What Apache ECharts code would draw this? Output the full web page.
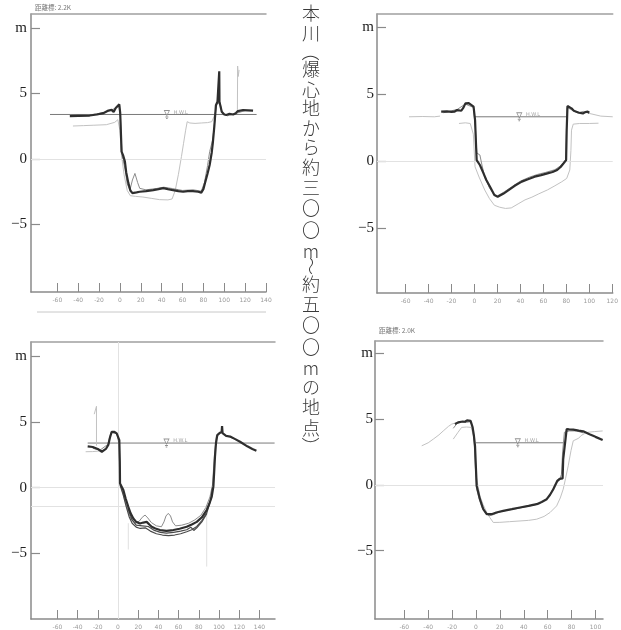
<!DOCTYPE html>
<html><head><meta charset="utf-8">
<script src="https://cdn.jsdelivr.net/npm/echarts@6/dist/echarts.min.js"></script>
<style>html,body{margin:0;padding:0;background:#fff}#c{width:621px;height:630px}</style>
</head><body><div id="c"></div>
<script>
// ---------------- DATA ----------------
const panelTitles = ['距離標: 2.2K', '', '', '距離標: 2.0K'];
const sideTitle = '本川（爆心地から約三〇〇m～約五〇〇mの地点）';
const yTickValues = [10, 5, 0, -5];
const xTicks1 = [-60, -40, -20, 0, 20, 40, 60, 80, 100, 120, 140];
const xTicks2 = [-60, -40, -20, 0, 20, 40, 60, 80, 100, 120];
const xTicks3 = [-60, -40, -20, 0, 20, 40, 60, 80, 100, 120, 140];
const xTicks4 = [-60, -40, -20, 0, 20, 40, 60, 80, 100];
const waterLevels = [3.4, 3.3, 3.4, 3.2];
const waterFrom = [-67, 0, -30, 0];
const waterTo = [131, 80, 155, 73];
const hwlX = [45, 39, 48, 35];

// Panel 1 (2.2K)
const p1Main = [[-48,3.28],[-40,3.3],[-29,3.32],[-22,3.4],[-16,3.5],[-11,3.7],[-8,3.75],[-6,3.6],[-4,3.9],[-0.6,4.17],[0.3,3.5],[1.6,0.56],[3,0.3],[4.8,-0.2],[6,-1],[8,-1.8],[10,-2.4],[12,-2.6],[16,-2.55],[19,-2.5],[25,-2.45],[32,-2.37],[37,-2.3],[41.5,-2.22],[46,-2.3],[51,-2.38],[56,-2.45],[60.6,-2.5],[65,-2.45],[70,-2.45],[75,-2.5],[78,-2.56],[80,-2.3],[81.3,-1.9],[84,-1.1],[86,-0.46],[88,0.5],[89,1.2],[90.5,2.5],[92,4.1],[93.5,4.37],[95,4.37],[95.2,6.7],[95.4,4.37],[97.3,4.37],[97.6,3.6],[100,3.4],[102,3.36],[105,3.45],[108.5,3.4],[111,3.5],[113,3.66],[118,3.74],[127.6,3.7]];
const p1Second = [[-45,3.25],[-30,3.35],[-15,3.55],[-5,3.85],[-1,4.1],[0.5,3.2],[2,0.3],[5,-0.8],[7,-1.9],[9.6,-2.37],[12,-1.6],[14.4,-1.1],[17,-1.8],[19,-2.24],[25,-2.35],[35,-2.25],[42,-2.15],[50,-2.25],[60,-2.4],[70,-2.35],[78,-2.45],[81,-1.8],[84,-0.5],[86,0.56],[87.5,0.7],[89,1.5],[91,3.0],[92.5,4.2],[96,4.3],[98,3.5],[103,3.3],[110,3.45],[120,3.7]];
const p1Light = [[-45,2.52],[-35,2.55],[-25,2.58],[-13,2.62],[-5,2.8],[-2,3.0],[0,2.2],[1.5,0.3],[4,-1.2],[7,-2.4],[10,-2.8],[15,-2.85],[22,-2.9],[30,-3.0],[38,-3.1],[46,-3.12],[50,-3.05],[53,-2.4],[56,-1.2],[59,0.2],[61,1.2],[63,2.2],[64.5,2.85],[67,2.75],[72,2.72],[78,2.75],[84,2.78],[88,2.85],[90,3.2],[91.5,3.6],[93,4.2]];
const p1Post = [[112.6,3.75],[112.8,7.1],[113.4,6.3],[114.2,6.8]];

// Panel 2
const p2Main = [[-29,3.68],[-24,3.7],[-20,3.66],[-17.6,3.68],[-15,3.8],[-13.4,3.93],[-11.5,3.75],[-10.7,3.68],[-9.5,4.0],[-7.9,4.3],[-5,4.32],[-3.7,4.28],[-0.8,4.05],[0.5,3.06],[1.2,1.5],[1.9,0.07],[4.7,-0.3],[7.5,-0.85],[10.3,-1.42],[14,-2.0],[17.3,-2.54],[20.2,-2.66],[25,-2.45],[30,-2.16],[35,-1.85],[41.2,-1.54],[46,-1.38],[52.4,-1.17],[58,-1.05],[63.5,-0.92],[68,-0.82],[72,-0.67],[75,-0.45],[77.6,-0.17],[79.8,0.07],[80.3,2.3],[81,4.1],[82.5,4.05],[84.5,3.93],[86.5,3.75],[88.7,3.68],[91,3.6],[94.4,3.55],[96.5,3.65],[98.6,3.68],[100,3.6]];
const p2Second = [[-27,3.6],[-15,3.85],[-8,4.25],[-1,4.0],[0.8,2.5],[2,0.6],[4.7,0.45],[6.5,-0.3],[9,-1.2],[13,-2.0],[17,-2.5],[20,-2.6],[26,-2.3],[32,-1.95],[40,-1.5],[48,-1.2],[55,-1.0],[62,-0.85],[70,-0.65],[76,-0.3],[79.5,0.1],[80,2.0],[80.6,4.0],[85,3.8],[90,3.6],[95,3.7],[100,3.55]];
const p2LightLeft = [[-57,3.3],[-45,3.32],[-35,3.3],[-30,3.35]];
const p2Light = [[-13.5,2.8],[-8,2.85],[-3.7,2.8],[-1,2.0],[0.5,-0.43],[4,-1.2],[8.9,-2.16],[13,-2.8],[17.3,-3.3],[22,-3.45],[27,-3.54],[28.5,-3.67],[32,-3.5],[38,-3.2],[44,-2.9],[50,-2.7],[56,-2.45],[63.5,-2.16],[70,-1.85],[76,-1.55],[80.3,-1.3],[83,-0.67],[84,0.8],[84.5,2.3],[86,2.75],[91.6,2.8],[100,2.8],[108,2.82]];
const p2LightRight = [[100,3.55],[110,3.35],[120.4,3.3]];

// Panel 3
const p3Main = [[-30,3.15],[-25,3.1],[-20,2.95],[-16,2.74],[-12,2.95],[-9.6,3.25],[-8,3.8],[-6.2,4.26],[-3.5,4.25],[-1.3,4.14],[1.3,3.63],[1.8,2.0],[2,0.33],[5.3,-0.18],[7.5,-0.8],[10.2,-1.45],[12.5,-1.95],[15.2,-2.34],[18,-2.6],[21.8,-2.72],[25,-2.65],[28.4,-2.6],[31,-2.8],[33.4,-2.97],[37,-3.1],[41.6,-3.22],[48,-3.28],[54.8,-3.22],[61,-3.12],[68,-2.97],[73,-2.8],[78,-2.6],[83,-2.25],[87.8,-1.7],[90.5,-1.2],[92.8,-0.68],[94.4,0.08],[95.2,1.2],[96,2.37],[97,3.4],[98.3,4.0],[100.5,4.15],[102.6,4.26],[103,4.7],[103.5,4.15],[104.3,4.0],[107,3.95],[111,3.9],[116,3.7],[120.8,3.5],[128,3.15],[133,2.95],[137,2.82]];
const p3Second = [[-25,3.0],[-18,2.85],[-10,3.3],[-7,4.2],[-1,4.1],[1,3.3],[1.8,0.5],[4,-0.2],[7,-1.0],[10,-1.8],[13,-2.4],[17,-2.7],[21,-2.55],[24,-2.25],[26.8,-2.08],[29.5,-2.3],[33,-2.65],[38,-2.9],[43,-2.97],[45.5,-2.6],[47.5,-2.15],[49.8,-1.95],[52,-2.15],[54,-2.6],[57,-2.9],[63,-2.85],[70,-2.7],[76,-2.45],[82,-2.1],[87,-1.5],[91,-0.7],[93.5,0.2],[95.5,2.5],[97.5,4.0],[102,4.2],[108,3.9],[115,3.75]];
const p3Low = [[2,0.2],[5,-0.5],[8,-1.4],[11,-2.2],[14,-2.7],[18,-3.0],[22,-3.1],[27,-3.05],[32,-3.3],[38,-3.5],[44,-3.6],[50,-3.65],[56,-3.6],[62,-3.5],[68,-3.35],[73,-3.2],[78,-2.95],[83,-2.5],[88,-1.9],[91.5,-1.0],[93.5,0]];
const p3Mid = [[10,-1.6],[14,-2.45],[18,-2.85],[24,-2.9],[30,-2.95],[36,-3.25],[42,-3.4],[48,-3.45],[55,-3.4],[62,-3.3],[68,-3.2],[72,-3.0],[75,-3.25],[78,-3.05],[83,-2.6],[88,-1.95]];
const p3LightLeft = [[-32,2.74],[-25,2.75],[-20,2.78],[-17,2.8]];
const p3Post = [[-21.3,3.2],[-21.3,6.2],[-23.5,5.6]];
const p3GuideA = [[10.2,-2.7],[10.2,-4.7]];
const p3GuideB = [[87.8,-1.45],[87.8,-6.0]];
const p3ExtraLevels = [-1.4];

// Panel 4 (2.0K)
const p4Main = [[-17.6,4.62],[-15,4.75],[-13.4,4.87],[-11,4.82],[-9.2,4.8],[-7.5,4.9],[-6.4,4.95],[-4.5,4.87],[-2.8,4.37],[-1.8,3.8],[-0.8,2.97],[0,1.2],[0.6,-0.08],[2,-0.6],[3.3,-1.09],[6.1,-1.85],[9,-2.23],[13.1,-2.23],[17,-2.1],[22.8,-1.98],[30,-1.85],[36.8,-1.72],[44,-1.6],[50.8,-1.47],[55,-1.3],[59.2,-1.09],[62,-0.75],[64.7,-0.33],[68,0.3],[70,0.45],[72.5,0.49],[73,1.96],[75.9,4.24],[78,4.22],[81.4,4.2],[86,4.12],[89.8,4.07],[95,3.85],[100,3.65],[106,3.42]];
const p4Second = [[-19,4.3],[-16,4.65],[-12,4.8],[-8,4.75],[-5,4.8],[-3,4.5],[-1.5,3.2],[-0.3,1.0],[0.5,-0.3],[2.5,-1.0],[5,-1.7],[8,-2.15],[11,-2.35],[15,-2.25],[20,-2.05],[28,-1.9],[36,-1.78],[45,-1.6],[53,-1.45],[60,-1.0],[64,-0.4],[67,0.15],[70,0.35],[71.5,0.8],[72.5,2.5],[74,4.0],[78,4.1],[84,4.1],[90,3.95]];
const p4LightLeft = [[-45.4,2.97],[-40,3.2],[-35.7,3.48],[-31,3.8],[-27.4,4.1],[-23,4.45],[-20.3,4.62],[-16,4.75]];
const p4LightInner = [[-19,3.48],[-15,4.0],[-12,4.37],[-8,4.4],[-4,4.37],[-2,3.7]];
const p4Light = [[-1.5,3.5],[0.5,0.5],[3.3,-0.84],[6,-1.5],[9,-2.1],[11.7,-2.5],[14.5,-2.86],[20,-2.85],[28,-2.8],[36,-2.75],[44,-2.7],[50.8,-2.61],[57,-2.4],[62,-2.1],[67.5,-1.6],[70.5,-1.0],[73,-0.33],[75,0.5],[77.2,1.45],[79.5,2.6],[81.4,3.35],[83,3.5],[86,3.55],[88,3.75],[92.6,3.99],[99,4.05],[106,4.1]];

// ---------------- LAYOUT / STYLE ----------------
const layout = [
  {left:31, top:14, width:235, height:278, xMin:-85.2, xMax:140, yMin:-10.15, yMax:11.07, ticks:xTicks1, labelMargin:4},
  {left:377, top:14, width:244, height:279, xMin:-84.9, xMax:120.4, yMin:-9.85, yMax:10.97, ticks:xTicks2, labelMargin:3},
  {left:31, top:342, width:244, height:277, xMin:-86.1, xMax:155.4, yMin:-9.99, yMax:11.09, ticks:xTicks3, labelMargin:4},
  {left:375, top:341, width:228, height:278, xMin:-84.5, xMax:106.3, yMin:-10.2, yMax:10.94, ticks:xTicks4, labelMargin:2}
];
const styles = {
  main:{color:'#2e2e2e', width:2.2},
  dark:{color:'#4a4a4a', width:1.2},
  mid:{color:'#8c8c8c', width:1},
  light:{color:'#c2c2c2', width:1},
  faint:{color:'#e0e0e0', width:1},
  water:{color:'#7a7a7a', width:1}
};
const panelLines = [
  [[p1Light,'light'],[p1Post,'light'],[p1Second,'mid'],[p1Main,'main']],
  [[p2LightLeft,'light'],[p2Light,'light'],[p2LightRight,'light'],[p2Second,'mid'],[p2Main,'main']],
  [[p3GuideA,'faint'],[p3GuideB,'faint'],[p3LightLeft,'light'],[p3Post,'light'],[p3Second,'mid'],[p3Mid,'dark'],[p3Low,'dark'],[p3Main,'main']],
  [[p4LightLeft,'light'],[p4LightInner,'light'],[p4Light,'light'],[p4Second,'mid'],[p4Main,'main']]
];
const extraLevels = [[], [], p3ExtraLevels, []];
const extraVerticals = [[], [], [0], []];

const grids = [], xAxes = [], yAxes = [], series = [];
layout.forEach((L, i) => {
  grids.push({left:L.left, top:L.top, width:L.width, height:L.height, containLabel:false});
  xAxes.push({
    type:'value', gridIndex:i, min:L.xMin, max:L.xMax, position:'bottom',
    axisLine:{show:true, onZero:false, lineStyle:{color:'#8a8a8a', width:1.5}},
    axisTick:{show:true, inside:true, length:9, customValues:L.ticks, lineStyle:{color:'#8a8a8a', width:1}},
    axisLabel:{show:true, customValues:L.ticks, margin:5, fontSize:6, color:'#9a9a9a', fontFamily:'DejaVu Sans'},
    splitLine:{show:false}
  });
  xAxes.push({
    type:'value', gridIndex:i, min:L.xMin, max:L.xMax, position:'top',
    axisLine:{show:true, onZero:false, lineStyle:{color:'#a0a0a0', width:1.5}},
    axisTick:{show:false}, axisLabel:{show:false}, splitLine:{show:false}
  });
  yAxes.push({
    type:'value', gridIndex:i, min:L.yMin, max:L.yMax,
    axisLine:{show:true, onZero:false, lineStyle:{color:'#8a8a8a', width:1.5}},
    axisTick:{show:true, inside:true, length:9, customValues:yTickValues, lineStyle:{color:'#8a8a8a', width:1.2}},
    axisLabel:{show:true, customValues:yTickValues, margin:L.labelMargin, fontSize:15, color:'#222',
      fontFamily:'Liberation Serif, DejaVu Serif, serif',
      formatter:v => v === 10 ? 'm' : (v < 0 ? '\u2212' + Math.abs(v) : String(v))},
    splitLine:{show:false}
  });
  const markData = [{yAxis:0}].concat(extraLevels[i].map(v => ({yAxis:v}))).concat(extraVerticals[i].map(v => ({xAxis:v})));
  series.push({
    type:'line', xAxisIndex:2*i, yAxisIndex:i, symbol:'none', silent:true, z:1,
    data:[[waterFrom[i], waterLevels[i]], [waterTo[i], waterLevels[i]]],
    lineStyle:{color:styles.water.color, width:styles.water.width},
    markLine:{silent:true, symbol:'none', label:{show:false}, lineStyle:{color:'#e2e2e2', width:1, type:'solid'}, data:markData}
  });
  panelLines[i].forEach(([d, s], k) => {
    series.push({
      type:'line', xAxisIndex:2*i, yAxisIndex:i, symbol:'none', silent:true, z:2 + k,
      data:d, lineStyle:{color:styles[s].color, width:styles[s].width}
    });
  });
  series.push({
    type:'scatter', xAxisIndex:2*i, yAxisIndex:i, silent:true, z:20,
    data:[[hwlX[i], waterLevels[i]]],
    symbol:'path://M0,0 L10,0 L5,7 Z M2,9 L8,9 M3.5,11 L6.5,11', symbolSize:[5,8],
    itemStyle:{color:'#fff', borderColor:'#777', borderWidth:0.8},
    label:{show:true, position:'right', distance:4, offset:[0,-2], formatter:'H.W.L', fontSize:5, color:'#888', fontFamily:'DejaVu Sans'}
  });
});

const vCenters = [13,33,52,69,90,108,128,147,167,188,208,230,251,266,284,304,325,347,368,387,407,428,446];
const rotatedChars = '（）～';
const graphics = Array.from(sideTitle).map((ch, k) => ({
  type:'text', x:311, y:vCenters[k], rotation: rotatedChars.includes(ch) ? -Math.PI/2 : 0,
  style:{text:ch, x:0, y:0, fill:'#3a3a3a', fontSize:18, fontWeight:300, fontFamily:'Noto Sans CJK JP',
    align:'center', verticalAlign:'middle', textAlign:'center', textVerticalAlign:'middle'}
}));
graphics.push({type:'text', x:35, y:8, style:{text:panelTitles[0], fill:'#777', fontSize:6.5, fontFamily:'Noto Sans CJK JP', verticalAlign:'middle', textVerticalAlign:'middle'}});
graphics.push({type:'text', x:379, y:331, style:{text:panelTitles[3], fill:'#777', fontSize:6.5, fontFamily:'Noto Sans CJK JP', verticalAlign:'middle', textVerticalAlign:'middle'}});
graphics.push({type:'line', shape:{x1:37, y1:312, x2:266, y2:312}, style:{stroke:'#c8c8c8', lineWidth:1}});

const chart = echarts.init(document.getElementById('c'), null, {renderer:'canvas'});
chart.setOption({
  animation:false, backgroundColor:'#fff',
  grid:grids, xAxis:xAxes, yAxis:yAxes, series:series, graphic:graphics
});
</script></body></html>
